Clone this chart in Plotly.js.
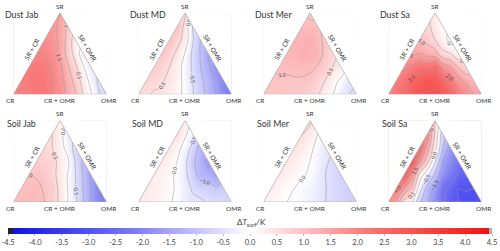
<!DOCTYPE html>
<html><head><meta charset="utf-8">
<script src="https://cdn.plot.ly/plotly-3.0.1.min.js"></script>
<style>html,body{margin:0;padding:0;background:#fff}#chart{width:500px;height:251px}</style>
</head><body><div id="chart"></div>
<script>
// ---- data: panel names, ternary labels, colorbar ticks ----
const PANEL_TITLES = ['Dust Jab', 'Dust MD', 'Dust Mer', 'Dust Sa', 'Soil Jab', 'Soil MD', 'Soil Mer', 'Soil Sa'];
const VERTEX_LABELS = {top: 'SR', left: 'CR', right: 'OMR'};
const EDGE_LABELS = {left: 'SR + CR', right: 'SR + OMR', bottom: 'CR + OMR'};
const COLORBAR_TICKS = [-4.5, -4.0, -3.5, -3.0, -2.5, -2.0, -1.5, -1.0, -0.5, 0.0, 0.5, 1.0, 1.5, 2.0, 2.5, 3.0, 3.5, 4.0, 4.5];

// ΔT_surf (K) on a ternary lattice (step 1/6).
// Row j: SR fraction = j/6; within a row, entries go from the CR side to the OMR side (OMR = i/6).
const dustJab = [
  [1.9, 2.1, 2.2, 1.8, 1.05, 0.05, -0.8],
  [2.1, 2.25, 2.0, 1.3, 0.3, -0.6],
  [2.1, 2.15, 1.6, 0.6, -0.4],
  [2.0, 1.8, 0.8, -0.3],
  [1.9, 1.4, 0.2],
  [1.7, 0.9],
  [1.5]
];
const dustMD = [
  [0.55, 0.45, 0.3, -0.1, -0.8, -1.5, -2.3],
  [0.7, 0.55, 0.2, -0.5, -1.2, -2.0],
  [0.8, 0.5, -0.2, -1.0, -1.8],
  [0.9, 0.4, -0.6, -1.5],
  [1.0, 0.3, -1.0],
  [1.0, -0.5],
  [0.6]
];
const dustMer = [
  [0.9, 0.9, 0.85, 0.7, 0.2, -0.35, -0.7],
  [0.95, 0.95, 0.95, 0.75, 0.15, -0.45],
  [1.05, 1.1, 1.1, 0.8, 0.3],
  [1.15, 1.3, 1.2, 0.65],
  [1.2, 1.3, 0.9],
  [1.1, 1.05],
  [0.9]
];
const dustSa = [
  [2.0, 2.5, 3.0, 3.1, 2.7, 1.9, 1.4],
  [2.1, 2.6, 2.95, 2.6, 1.7, 1.2],
  [1.9, 2.3, 2.45, 1.5, 0.6],
  [1.4, 1.3, 0.6, 0.1],
  [1.0, 0.5, -0.2],
  [0.6, 0.0],
  [0.3]
];
const soilJab = [
  [1.0, 1.15, 1.0, 0.4, -0.4, -1.5, -2.3],
  [1.05, 1.1, 0.8, 0.0, -1.0, -2.0],
  [1.0, 0.9, 0.3, -0.5, -1.6],
  [0.8, 0.7, 0.1, -1.1],
  [0.6, 0.2, -0.7],
  [0.5, -0.3],
  [0.3]
];
const soilMD = [
  [0.3, 0.25, 0.05, -0.3, -0.4, -0.5, -0.6],
  [0.3, 0.2, -0.05, -0.55, -0.75, -0.8],
  [0.3, 0.1, -0.4, -1.2, -1.55],
  [0.35, 0.0, -0.9, -1.65],
  [0.4, -0.2, -1.2],
  [0.5, -0.3],
  [0.4]
];
const soilMer = [
  [0.2, 0.05, -0.1, -0.25, -0.5, -0.7, -0.8],
  [0.25, 0.05, -0.1, -0.35, -0.6, -0.75],
  [0.35, 0.15, -0.05, -0.5, -0.7],
  [0.4, 0.15, -0.2, -0.6],
  [0.45, 0.1, -0.4],
  [0.5, 0.0],
  [0.6]
];
const soilSa = [
  [1.8, 0.3, -0.9, -1.9, -2.8, -3.15, -3.1],
  [2.1, 0.9, -1.2, -2.4, -3.0, -3.0],
  [2.7, 0.3, -1.1, -2.2, -2.7],
  [3.0, 0.7, -1.5, -2.3],
  [2.5, 0.2, -1.7],
  [1.8, -0.8],
  [0.5]
];
const PANEL_DATA = [dustJab, dustMD, dustMer, dustSa, soilJab, soilMD, soilMer, soilSa];

// ---- styling / geometry ----
const W = 500, H = 251;
const FONT = "'Liberation Sans Narrow', Lato, sans-serif";
const TXT = '#333';
const H3 = Math.sqrt(3) / 2;
const px = v => v / W, py = v => 1 - v / H;
const TRI_LEFT = 13.5, TRI_SIDE = 93, COL_STEP = 125, TRI_H = 81.6;
const ROW_BASE = [94.3, 202];
const TITLE_Y = [14.5, 123.5], TITLE_X = [3, 5];

const data = [], annotations = [], shapes = [];
const layout = {
  width: W, height: H,
  margin: {l: 0, r: 0, t: 0, b: 0},
  paper_bgcolor: '#fff', plot_bgcolor: '#fff',
  showlegend: false,
  font: {family: FONT, color: TXT},
  coloraxis: {
    cmin: -4.5, cmax: 4.5,
    colorscale: [[0, '#222222'], [0.011, '#222222'], [0.011, '#1010ee'], [0.25, '#7676f6'],
                 [0.5, '#ffffff'], [0.75, '#f87474'], [0.993, '#f81010'], [0.993, '#b0b0b0'], [1, '#b0b0b0']],
    colorbar: {
      orientation: 'h', x: 0.5, xanchor: 'center', len: 484, lenmode: 'pixels',
      y: py(228), yanchor: 'top', thickness: 6, thicknessmode: 'pixels',
      xpad: 0, ypad: 0, outlinewidth: 0,
      tickmode: 'array', tickvals: COLORBAR_TICKS, ticktext: COLORBAR_TICKS.map(v => v.toFixed(1)),
      ticks: 'outside', ticklen: 2, tickcolor: '#bbb',
      tickfont: {family: FONT, size: 7.5, color: '#444'}
    }
  }
};

function ann(text, x, y, opts) {
  annotations.push(Object.assign({text, x: px(x), y: py(y), xref: 'paper', yref: 'paper',
    showarrow: false, xanchor: 'center', yanchor: 'middle',
    font: {family: FONT, size: 6.5, color: TXT}}, opts || {}));
}

PANEL_DATA.forEach((rows, k) => {
  const col = k % 4, row = Math.floor(k / 4);
  const n = rows.length - 1;
  const x = [], y = [], z = [];
  rows.forEach((vals, j) => vals.forEach((v, i) => {
    x.push((2 * i + j) / (2 * n));
    y.push((j / n) * H3);
    z.push(v);
  }));
  const ax = k === 0 ? '' : String(k + 1);
  data.push({
    type: 'contour', x, y, z, xaxis: 'x' + ax, yaxis: 'y' + ax,
    coloraxis: 'coloraxis', connectgaps: true, hoverinfo: 'skip',
    contours: {coloring: 'heatmap', start: -4.5, end: 4.5, size: 0.5,
      showlabels: true, labelformat: '.1f',
      labelfont: {family: FONT, size: 5.3, color: '#444'}},
    line: {color: '#9a9a9a', width: 0.55, smoothing: 1}
  });
  const x0 = TRI_LEFT + COL_STEP * col, base = ROW_BASE[row];
  layout['xaxis' + ax] = {domain: [px(x0), px(x0 + TRI_SIDE)], range: [0, 1], visible: false, fixedrange: true};
  layout['yaxis' + ax] = {domain: [py(base), py(base - TRI_H)], range: [0, H3], visible: false, fixedrange: true};
  const xr = 'x' + ax, yr = 'y' + ax;
  const e = 0.06;
  shapes.push({type: 'path', xref: xr, yref: yr, layer: 'above', line: {width: 0}, fillcolor: '#fff',
    path: `M ${-e},${-e} L 0,0 L 0.5,${H3} L 0.5,${H3 + e} L ${-e},${H3 + e} Z`});
  shapes.push({type: 'path', xref: xr, yref: yr, layer: 'above', line: {width: 0}, fillcolor: '#fff',
    path: `M ${1 + e},${-e} L 1,0 L 0.5,${H3} L 0.5,${H3 + e} L ${1 + e},${H3 + e} Z`});
  shapes.push({type: 'path', xref: xr, yref: yr, layer: 'above', line: {width: 0.7, color: '#ababab'},
    fillcolor: 'rgba(0,0,0,0)', path: `M 0,0 L 1,0 L 0.5,${H3} Z`});

  ann(PANEL_TITLES[k], TITLE_X[row] + COL_STEP * col, TITLE_Y[row], {xanchor: 'left', font: {family: FONT, size: 8.8, color: TXT}});
  ann(VERTEX_LABELS.top, x0 + TRI_SIDE / 2, base - TRI_H - 6.5);
  ann(VERTEX_LABELS.left, x0 - 3, base + 6);
  ann(VERTEX_LABELS.right, x0 + TRI_SIDE + 2.5, base + 6);
  ann(EDGE_LABELS.bottom, x0 + TRI_SIDE / 2, base + 6);
  ann(EDGE_LABELS.left, x0 + 18.8, base - 45.8, {textangle: -60});
  ann(EDGE_LABELS.right, x0 + 74.2, base - 45.8, {textangle: 60});
});

ann('Δ<i>T</i><sub>surf</sub>/K', 251, 222, {font: {family: FONT, size: 8, color: TXT}});

layout.annotations = annotations;
layout.shapes = shapes;

Plotly.newPlot('chart', data, layout, {displayModeBar: false, staticPlot: true});
</script>
</body></html>
